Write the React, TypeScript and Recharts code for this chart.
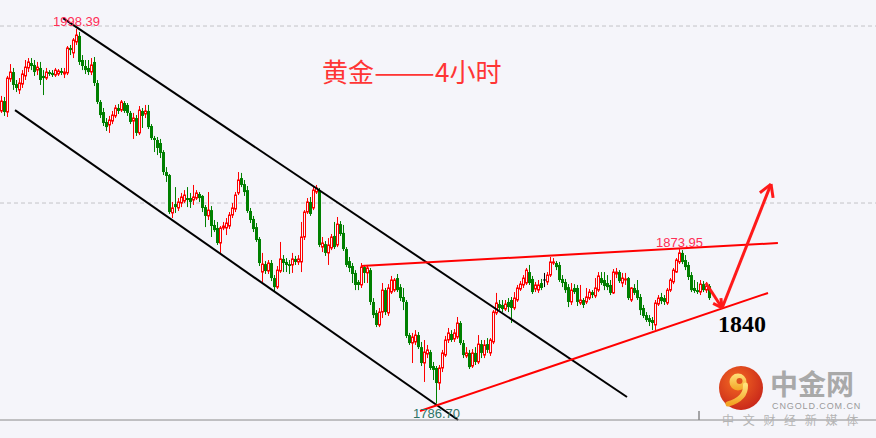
import { ComposedChart, Bar, XAxis, YAxis, CartesianGrid, ReferenceLine, ReferenceDot } from "recharts";

// 4h gold candles, oldest first
const opens = [
  1952.0, 1957.6, 1951.4, 1970.1, 1974.0, 1967.2, 1963.9, 1967.2, 1971.8, 1976.3,
  1979.1, 1978.0, 1975.1, 1976.3, 1971.8, 1970.6, 1974.0, 1973.5, 1972.3, 1972.9,
  1974.6, 1972.9, 1973.5, 1987.6, 1984.8, 1991.0, 1994.4, 1980.8, 1977.4, 1976.3,
  1974.0, 1979.7, 1967.8, 1957.1, 1951.4, 1945.8, 1944.1, 1946.3, 1949.2, 1953.7,
  1952.5, 1956.5, 1955.4, 1950.9, 1946.3, 1948.0, 1939.6, 1952.0, 1950.3, 1952.0,
  1943.5, 1936.7, 1935.6, 1933.9, 1928.8, 1917.5, 1915.8, 1894.4, 1899.4, 1897.2,
  1900.0, 1901.1, 1902.8, 1902.8, 1901.7, 1902.8, 1905.1, 1904.0, 1897.7, 1892.7,
  1896.0, 1887.6, 1885.9, 1877.4, 1885.9, 1885.9, 1887.0, 1893.2, 1896.6, 1905.7,
  1914.1, 1910.7, 1907.3, 1895.5, 1891.0, 1886.4, 1879.7, 1861.0, 1865.5, 1861.6,
  1866.1, 1857.6, 1852.5, 1861.6, 1868.4, 1866.7, 1865.5, 1865.0, 1868.4, 1866.7,
  1866.7, 1880.8, 1894.9, 1900.6, 1897.2, 1906.2, 1907.3, 1875.1, 1876.8, 1871.8,
  1874.6, 1881.4, 1876.3, 1888.1, 1883.1, 1874.0, 1867.2, 1864.4, 1860.5, 1855.4,
  1853.7, 1863.8, 1860.5, 1862.1, 1844.1, 1837.9, 1831.1, 1838.4, 1850.8, 1837.9,
  1849.7, 1850.8, 1857.6, 1852.5, 1846.9, 1844.1, 1825.4, 1820.9, 1821.5, 1825.4,
  1818.6, 1809.6, 1814.7, 1815.8, 1807.9, 1806.8, 1798.3, 1806.8, 1814.1, 1822.6,
  1826.0, 1823.2, 1824.3, 1832.2, 1820.9, 1813.6, 1815.3, 1807.9, 1815.3, 1810.2,
  1820.3, 1814.1, 1820.3, 1815.3, 1821.5, 1837.9, 1842.9, 1842.4, 1840.1, 1844.1,
  1845.2, 1840.7, 1845.2, 1851.4, 1853.7, 1854.8, 1861.0, 1857.1, 1851.4, 1850.8,
  1854.8, 1856.5, 1855.4, 1859.3, 1866.1, 1866.1, 1865.0, 1857.1, 1855.4, 1852.5,
  1844.1, 1852.0, 1852.0, 1843.5, 1845.2, 1844.1, 1846.3, 1849.7, 1847.5, 1850.8,
  1857.6, 1856.5, 1854.8, 1853.7, 1849.2, 1859.9, 1861.0, 1854.8, 1856.5, 1857.6,
  1845.2, 1852.0, 1850.8, 1846.9, 1840.7, 1836.7, 1835.0, 1833.9, 1831.1, 1842.9,
  1846.9, 1846.3, 1843.5, 1850.8, 1855.4, 1861.0, 1866.7, 1871.8, 1867.8, 1865.0,
  1859.3, 1852.0, 1850.8, 1849.7, 1854.2, 1850.8, 1853.1,
];
const highs = [
  1960.5, 1959.9, 1971.8, 1978.5, 1976.3, 1969.5, 1970.6, 1975.1, 1980.8, 1981.9,
  1981.9, 1980.8, 1979.7, 1979.7, 1975.1, 1976.3, 1975.1, 1975.1, 1976.3, 1975.7,
  1976.3, 1976.3, 1988.7, 1989.3, 1993.2, 1998.39, 1996.6, 1983.6, 1980.8, 1980.8,
  1981.9, 1982.5, 1969.5, 1958.2, 1953.7, 1948.0, 1949.2, 1952.0, 1955.4, 1955.9,
  1958.2, 1957.6, 1956.5, 1952.0, 1950.9, 1949.7, 1954.8, 1953.7, 1955.4, 1955.4,
  1944.6, 1937.9, 1937.3, 1936.2, 1929.9, 1920.3, 1916.4, 1900.6, 1909.0, 1902.8,
  1905.7, 1907.3, 1909.0, 1905.7, 1910.2, 1907.3, 1906.2, 1904.5, 1898.9, 1906.2,
  1898.3, 1890.4, 1889.3, 1887.0, 1889.3, 1891.5, 1894.9, 1900.0, 1906.2, 1917.5,
  1917.0, 1913.0, 1909.6, 1897.2, 1892.7, 1888.7, 1880.8, 1871.8, 1867.2, 1867.8,
  1867.8, 1859.3, 1864.4, 1878.0, 1870.6, 1868.9, 1867.8, 1871.8, 1870.1, 1870.6,
  1889.3, 1896.0, 1902.8, 1903.4, 1909.6, 1910.2, 1908.5, 1880.8, 1878.5, 1880.2,
  1882.5, 1889.3, 1892.1, 1889.8, 1887.6, 1875.1, 1869.5, 1866.1, 1862.1, 1856.5,
  1866.1, 1865.0, 1865.0, 1863.3, 1846.3, 1839.5, 1840.7, 1854.8, 1852.0, 1854.2,
  1858.8, 1857.6, 1859.9, 1854.2, 1852.0, 1845.2, 1826.6, 1826.6, 1828.2, 1827.1,
  1821.5, 1822.6, 1819.8, 1817.0, 1810.2, 1807.9, 1808.5, 1817.0, 1824.9, 1829.4,
  1828.2, 1828.8, 1835.6, 1833.3, 1822.6, 1818.6, 1817.0, 1817.5, 1818.6, 1825.4,
  1822.6, 1822.6, 1823.7, 1823.7, 1839.5, 1849.2, 1845.2, 1845.2, 1845.2, 1846.3,
  1846.9, 1849.7, 1853.7, 1855.9, 1859.3, 1863.3, 1865.0, 1858.8, 1855.4, 1856.5,
  1857.1, 1860.5, 1861.0, 1869.5, 1868.9, 1867.2, 1866.7, 1859.3, 1857.1, 1854.2,
  1854.8, 1854.2, 1853.7, 1853.7, 1846.3, 1852.0, 1851.4, 1850.8, 1857.6, 1861.0,
  1861.0, 1861.0, 1859.3, 1856.5, 1862.7, 1863.3, 1862.1, 1860.5, 1860.5, 1858.2,
  1852.5, 1854.2, 1856.5, 1848.6, 1842.4, 1838.4, 1836.7, 1835.6, 1845.2, 1848.0,
  1849.2, 1848.0, 1852.0, 1857.6, 1863.3, 1868.9, 1873.95, 1873.4, 1870.6, 1866.7,
  1861.0, 1856.5, 1855.4, 1856.5, 1855.9, 1855.4, 1854.2,
];
const lows = [
  1950.9, 1949.2, 1948.6, 1968.4, 1963.9, 1962.7, 1961.6, 1965.0, 1969.5, 1974.0,
  1975.1, 1971.8, 1972.3, 1966.7, 1961.0, 1969.5, 1971.8, 1971.2, 1971.2, 1971.8,
  1972.3, 1970.6, 1972.3, 1983.6, 1981.9, 1989.3, 1978.0, 1975.1, 1972.9, 1972.3,
  1972.3, 1966.1, 1955.9, 1948.0, 1943.5, 1940.7, 1939.6, 1944.6, 1948.0, 1950.3,
  1951.4, 1950.9, 1949.2, 1944.6, 1936.2, 1937.9, 1938.4, 1942.4, 1948.0, 1941.8,
  1935.6, 1928.8, 1927.1, 1925.4, 1915.8, 1911.9, 1893.8, 1891.5, 1894.4, 1895.5,
  1897.7, 1900.0, 1897.7, 1897.2, 1898.9, 1901.7, 1900.6, 1894.9, 1886.4, 1890.4,
  1880.8, 1883.6, 1876.3, 1871.8, 1884.7, 1881.9, 1885.3, 1891.5, 1894.9, 1904.5,
  1909.0, 1904.0, 1894.4, 1888.7, 1883.6, 1878.0, 1864.4, 1855.4, 1859.9, 1859.9,
  1855.9, 1850.3, 1851.4, 1860.5, 1861.0, 1861.0, 1859.9, 1860.5, 1865.0, 1865.0,
  1861.0, 1879.1, 1893.8, 1892.7, 1896.0, 1905.1, 1875.1, 1872.3, 1870.1, 1865.0,
  1873.4, 1874.0, 1875.1, 1881.4, 1872.9, 1863.8, 1861.0, 1854.8, 1850.8, 1850.8,
  1852.0, 1854.8, 1854.8, 1842.4, 1835.0, 1829.9, 1829.9, 1835.0, 1836.7, 1836.2,
  1848.6, 1849.7, 1849.7, 1844.6, 1839.5, 1823.7, 1819.8, 1809.6, 1819.8, 1817.5,
  1807.9, 1798.9, 1812.4, 1805.7, 1800.0, 1786.7, 1794.4, 1804.5, 1813.0, 1820.9,
  1821.5, 1821.5, 1823.2, 1819.8, 1812.4, 1812.4, 1806.2, 1806.8, 1808.5, 1809.0,
  1812.4, 1812.4, 1815.3, 1813.6, 1820.3, 1836.7, 1839.5, 1838.4, 1839.0, 1838.4,
  1832.2, 1839.5, 1844.1, 1850.3, 1852.0, 1853.7, 1853.7, 1848.6, 1849.7, 1849.2,
  1850.8, 1852.5, 1853.7, 1858.2, 1865.0, 1862.1, 1855.4, 1852.5, 1849.2, 1841.2,
  1842.4, 1848.6, 1841.8, 1842.4, 1840.7, 1842.9, 1845.2, 1846.3, 1846.3, 1849.7,
  1853.7, 1850.8, 1850.8, 1848.0, 1848.6, 1857.6, 1854.8, 1852.5, 1853.7, 1845.2,
  1844.1, 1848.0, 1845.2, 1836.7, 1835.0, 1832.8, 1830.5, 1828.2, 1828.2, 1841.8,
  1842.9, 1842.4, 1842.4, 1849.7, 1854.2, 1860.5, 1865.5, 1865.5, 1862.1, 1856.5,
  1849.7, 1849.2, 1848.6, 1848.0, 1849.7, 1849.2, 1845.2,
];
const closes = [
  1957.6, 1951.4, 1970.6, 1974.0, 1966.7, 1965.0, 1967.8, 1972.9, 1976.8, 1979.7,
  1977.4, 1974.0, 1976.8, 1969.5, 1970.6, 1974.0, 1972.9, 1972.3, 1975.1, 1974.6,
  1973.5, 1974.0, 1987.6, 1986.4, 1992.1, 1994.9, 1979.7, 1977.4, 1975.1, 1974.0,
  1978.0, 1967.8, 1957.1, 1949.7, 1945.2, 1942.9, 1946.9, 1949.7, 1953.7, 1952.0,
  1957.1, 1952.0, 1950.9, 1945.8, 1948.0, 1939.6, 1952.5, 1949.2, 1952.0, 1942.9,
  1936.7, 1935.6, 1931.1, 1928.3, 1917.5, 1915.3, 1894.9, 1897.2, 1897.7, 1900.6,
  1903.4, 1904.5, 1901.7, 1900.6, 1903.4, 1905.7, 1902.8, 1897.2, 1892.7, 1896.0,
  1887.0, 1884.7, 1877.4, 1885.9, 1887.0, 1888.7, 1893.2, 1897.2, 1904.5, 1913.0,
  1910.2, 1906.2, 1895.5, 1890.4, 1885.3, 1879.1, 1866.1, 1865.5, 1861.6, 1866.1,
  1857.6, 1852.5, 1862.1, 1868.4, 1866.1, 1865.0, 1864.4, 1868.4, 1866.7, 1868.4,
  1880.8, 1894.9, 1900.6, 1893.8, 1907.3, 1908.5, 1876.3, 1877.4, 1871.8, 1876.3,
  1880.8, 1875.1, 1888.1, 1882.5, 1874.0, 1865.0, 1863.3, 1859.9, 1853.7, 1853.7,
  1863.8, 1860.5, 1863.3, 1844.1, 1836.7, 1831.1, 1838.4, 1850.8, 1838.4, 1852.0,
  1856.5, 1856.5, 1850.8, 1846.3, 1844.1, 1824.9, 1820.9, 1824.3, 1825.4, 1818.6,
  1809.6, 1815.8, 1817.0, 1806.8, 1805.7, 1798.3, 1806.8, 1815.3, 1822.6, 1826.6,
  1822.6, 1826.6, 1832.2, 1820.9, 1814.1, 1815.3, 1807.3, 1815.3, 1810.2, 1820.3,
  1815.3, 1819.8, 1817.0, 1822.6, 1838.4, 1843.5, 1840.7, 1840.1, 1842.9, 1841.2,
  1840.7, 1846.3, 1852.0, 1854.2, 1857.6, 1862.1, 1854.8, 1849.7, 1853.7, 1853.7,
  1852.0, 1856.5, 1859.3, 1866.7, 1866.7, 1863.8, 1856.5, 1854.8, 1850.8, 1844.1,
  1850.8, 1849.7, 1844.1, 1845.2, 1842.4, 1846.9, 1849.7, 1848.0, 1852.0, 1858.8,
  1854.8, 1853.1, 1852.5, 1849.2, 1861.0, 1861.0, 1855.9, 1857.6, 1857.1, 1846.3,
  1852.0, 1849.2, 1846.3, 1839.5, 1836.2, 1833.9, 1832.8, 1832.2, 1843.5, 1846.3,
  1844.6, 1844.1, 1850.8, 1856.5, 1862.1, 1867.8, 1871.8, 1866.7, 1863.8, 1858.2,
  1850.8, 1850.3, 1849.7, 1854.2, 1850.8, 1853.1, 1846.3,
];

// hand-drawn lines, [bar index, price]
const channelUpper = [[20.5, 2004.5], [208.5, 1790.4]];
const channelLower = [[4.5, 1952.5], [152.2, 1777.4]];
const resistance = [[119.8, 1864.4], [258.8, 1877.4]];
const support = [[139.5, 1782.5], [255.5, 1849.2]];
const arrowDown = [[234.8, 1854.8], [240.2, 1840.7]];
const arrowDownHead = [[239.8, 1846.3], [240.2, 1840.7], [237.2, 1843.3]];
const arrowUp = [[240.2, 1840.7], [256.5, 1910.7]];
const arrowUpHead = [[252.8, 1905.8], [256.5, 1910.7], [257.2, 1902.9]];
const gridLevels = [1900, 2000];
const separator = [[232.5, 1777.41], [232.5, 1782.5]];

const BG = "#f5f5fa";
const UP = "#ff0000";
const DOWN = "#008000";

const candles = opens.map((o, i) => ({
  i,
  o,
  h: highs[i],
  l: lows[i],
  c: closes[i],
  range: [lows[i], highs[i]],
}));

function Candle(props: any) {
  const { x, y, width, height, payload } = props;
  if (!payload || !height) return null;
  const { o, h, l, c } = payload;
  const k = height / (h - l);
  const py = (p: number) => y + (h - p) * k;
  const xc = Math.floor(x + width / 2) + 0.5;
  const top = py(Math.max(o, c));
  const bot = py(Math.min(o, c));
  const bh = Math.max(bot - top, 1);
  if (o === c) {
    return (
      <g>
        <line x1={xc} x2={xc} y1={y} y2={y + height} stroke="#000" />
        <line x1={xc - 1.5} x2={xc + 1.5} y1={top} y2={top} stroke="#000" />
      </g>
    );
  }
  if (c > o) {
    return (
      <g>
        <line x1={xc} x2={xc} y1={y} y2={y + height} stroke={UP} />
        <rect x={xc - 1} y={top} width={2} height={bh} fill={BG} stroke={UP} strokeWidth={1} />
      </g>
    );
  }
  return (
    <g>
      <line x1={xc} x2={xc} y1={y} y2={y + height} stroke={DOWN} />
      <rect x={xc - 1.5} y={top} width={3} height={bh} fill={DOWN} />
    </g>
  );
}

const seg = (pts: number[][]) => pts.map(([x, y]) => ({ x, y }));

export default function App() {
  return (
    <div
      style={{
        position: "fixed",
        left: 0,
        top: 0,
        width: 876,
        height: 438,
        background: BG,
        fontFamily: "'Liberation Sans', Arial, sans-serif",
        overflow: "hidden",
      }}
    >
      <ComposedChart width={876} height={438} data={candles} margin={{ top: 0, right: 0, bottom: 0, left: 0 }}>
        <CartesianGrid vertical={false} horizontalValues={gridLevels} stroke="#c4c4c8" strokeDasharray="4 3" />
        <XAxis
          type="number"
          dataKey="i"
          domain={[-0.5, 291.5]}
          allowDataOverflow
          height={18}
          tick={false}
          tickLine={false}
          axisLine={{ stroke: "#8a8a8a" }}
        />
        <YAxis type="number" domain={[1777.41, 2014.7]} allowDataOverflow hide ticks={gridLevels} />
        <Bar dataKey="range" barSize={3} shape={Candle} isAnimationActive={false} />

        <ReferenceLine segment={seg(channelUpper)} stroke="#000" strokeWidth={2} ifOverflow="visible" />
        <ReferenceLine segment={seg(channelLower)} stroke="#000" strokeWidth={2} ifOverflow="visible" />
        <ReferenceLine segment={seg(resistance)} stroke={UP} strokeWidth={2} ifOverflow="visible" />
        <ReferenceLine segment={seg(support)} stroke={UP} strokeWidth={2} ifOverflow="visible" />
        <ReferenceLine segment={seg(arrowDown)} stroke="#ff1a1a" strokeWidth={3} ifOverflow="visible" />
        <ReferenceLine segment={seg(arrowDownHead.slice(0, 2))} stroke="#ff1a1a" strokeWidth={3} ifOverflow="visible" />
        <ReferenceLine segment={seg(arrowDownHead.slice(1))} stroke="#ff1a1a" strokeWidth={3} ifOverflow="visible" />
        <ReferenceLine segment={seg(arrowUp)} stroke="#ff1a1a" strokeWidth={3} ifOverflow="visible" />
        <ReferenceLine segment={seg(arrowUpHead.slice(0, 2))} stroke="#ff1a1a" strokeWidth={3} ifOverflow="visible" />
        <ReferenceLine segment={seg(arrowUpHead.slice(1))} stroke="#ff1a1a" strokeWidth={3} ifOverflow="visible" />
        <ReferenceLine segment={seg(separator)} stroke="#555" strokeWidth={1} ifOverflow="visible" />

        <ReferenceDot
          x={25}
          y={1998.39}
          r={2}
          fill="none"
          stroke="none"
          ifOverflow="visible"
          label={{ value: "1998.39", position: "top", offset: 1, fill: "#ff2d55", fontSize: 13 }}
        />
        <ReferenceDot
          x={226}
          y={1873.95}
          r={2}
          fill="none"
          stroke="none"
          ifOverflow="visible"
          label={{ value: "1873.95", position: "top", offset: 0, fill: "#ff2d55", fontSize: 13 }}
        />
        <ReferenceDot
          x={145}
          y={1786.7}
          r={2}
          fill="none"
          stroke="none"
          ifOverflow="visible"
          label={{ value: "1786.70", position: "bottom", offset: 3, fill: "#2f7466", fontSize: 13 }}
        />
      </ComposedChart>

      <svg width={876} height={438} style={{ position: "absolute", left: 0, top: 0, pointerEvents: "none" }}>
        <defs>
          <radialGradient id="logoBall" cx="40%" cy="35%" r="70%">
            <stop offset="0%" stopColor="#f46a22" />
            <stop offset="100%" stopColor="#c8261a" />
          </radialGradient>
          <linearGradient id="logoSwirl" x1="0" y1="0" x2="0" y2="1">
            <stop offset="0%" stopColor="#ffe27a" />
            <stop offset="100%" stopColor="#f3a424" />
          </linearGradient>
        </defs>
        <text fontFamily="'Noto Sans CJK SC', sans-serif" fontSize={26} fill="#ff3535" y={82}>
          <tspan x={322}>黄金</tspan>
          <tspan x={374} textLength={61} lengthAdjust="spacingAndGlyphs">——</tspan>
          <tspan x={435}>4小时</tspan>
        </text>
        <text x={718} y={332} fontFamily="'Liberation Serif', 'DejaVu Serif', serif" fontWeight="bold" fontSize={24} fill="#000">
          1840
        </text>

        <circle cx={741} cy={388} r={22} fill="url(#logoBall)" />
        <circle cx={738} cy={382} r={8.5} fill="url(#logoSwirl)" />
        <circle cx={739.5} cy={381} r={3} fill="#e0541e" />
        <path d="M 745.5 385 Q 746 399 728 404" fill="none" stroke="url(#logoSwirl)" strokeWidth={5} strokeLinecap="round" />
        <text x={770} y={394.5} fontFamily="'Noto Sans CJK SC', sans-serif" fontWeight="bold" fontSize={28} fill="#a9a9a9">
          中金网
        </text>
        <text x={772} y={408.5} fontFamily="'Liberation Sans', Arial, sans-serif" fontSize={9} fill="#9a9a9a" letterSpacing={0.9}>
          CNGOLD.COM.CN
        </text>
        <text x={722} y={425} fontFamily="'Noto Sans CJK SC', sans-serif" fontSize={12} fill="#b4b4b4" letterSpacing={8.7}>
          中文财经新媒体
        </text>
      </svg>
    </div>
  );
}
